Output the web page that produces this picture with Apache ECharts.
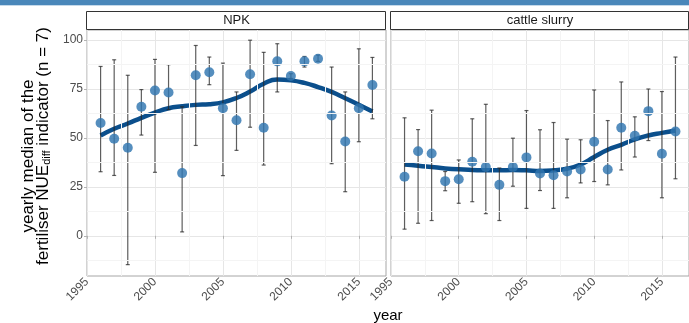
<!DOCTYPE html>
<html><head><meta charset="utf-8">
<script src="https://cdn.jsdelivr.net/npm/echarts@6/dist/echarts.min.js"></script>
<style>html,body{margin:0;padding:0;background:#fff}#c{width:689px;height:323px}</style>
</head><body><div id="c"></div>
<script>
const years = [1996,1997,1998,1999,2000,2001,2002,2003,2004,2005,2006,2007,2008,2009,2010,2011,2012,2013,2014,2015,2016];
const panelNames = ['NPK', 'cattle slurry'];

const npkMedian = [57.6,49.5,44.9,65.8,74.1,73.1,32.0,81.9,83.4,65.1,59.0,82.4,55.1,89.0,81.5,89.0,90.3,61.4,48.1,65.1,76.9];
const npkLower  = [32.7,30.8,-14.7,51.4,32.4,64.4,2.0,46.1,77.1,30.7,43.6,55.4,36.1,73.4,80.3,86.1,89.0,36.8,22.5,48.0,59.7];
const npkUpper  = [86.4,89.8,81.9,74.6,90.0,87.3,65.8,97.1,91.2,88.1,73.4,99.8,93.6,98.0,82.7,91.5,92.2,86.1,73.4,95.4,91.0];
const npkSmooth = [51.2,54.6,57.3,60.2,62.9,65.1,66.1,66.8,67.1,68.1,70.3,73.6,77.6,79.7,79.3,78.0,75.9,73.4,70.2,66.9,63.4];

const slurryMedian = [30.1,43.1,42.0,27.9,28.9,37.8,35.1,26.0,35.1,40.0,31.8,30.9,32.8,33.8,48.0,33.8,55.1,51.0,63.6,41.9,53.2];
const slurryLower  = [3.4,6.4,7.8,23.0,16.6,17.4,11.3,7.8,25.3,14.0,23.1,14.0,19.4,27.0,27.7,26.0,33.6,40.2,48.6,19.4,29.1];
const slurryUpper  = [60.2,54.2,64.1,32.8,38.7,59.7,67.1,34.6,49.8,63.9,54.1,57.8,49.3,49.0,74.4,58.8,78.5,60.7,74.9,73.6,91.2];
const slurrySmooth = [36.4,35.8,35.1,34.4,33.9,33.6,33.4,33.4,33.6,33.4,33.1,33.4,34.2,36.4,40.2,43.9,46.4,49.2,51.2,52.5,53.7];

const xTicks = [1995,2000,2005,2010,2015];
const yTicks = [0,25,50,75,100];
const xMinor = [1997.5,2002.5,2007.5,2012.5];
const yMinor = [-12.5,12.5,37.5,62.5,87.5];

const panels = [
  {median: npkMedian, lower: npkLower, upper: npkUpper, smooth: npkSmooth},
  {median: slurryMedian, lower: slurryLower, upper: slurryUpper, smooth: slurrySmooth}
];

const chart = echarts.init(document.getElementById('c'), null, {renderer: 'canvas'});
const FONT = 'Liberation Sans, Arial, sans-serif';
const gridDefs = [
  {left: 87, top: 30, width: 299, height: 246},
  {left: 391, top: 30, width: 298, height: 246}
];

const xAxes = gridDefs.map((g, i) => ({
  type: 'value', gridIndex: i, min: 1995, max: 2017,
  axisLine: {show: false},
  axisTick: {show: true, length: 3, lineStyle: {color: '#b3b3b3'}, customValues: xTicks},
  axisLabel: {rotate: 45, color: '#4d4d4d', fontSize: 12, fontFamily: FONT, margin: 4,
              customValues: xTicks, formatter: v => String(v)},
  splitLine: {show: true, lineStyle: {color: '#e6e6e6', width: 1}}
}));
const yAxes = gridDefs.map((g, i) => ({
  type: 'value', gridIndex: i, min: -20.5, max: 105,
  axisLine: {show: false},
  axisTick: {show: i === 0, length: 3, lineStyle: {color: '#b3b3b3'}, customValues: yTicks},
  axisLabel: {show: i === 0, color: '#4d4d4d', fontSize: 12, fontFamily: FONT, margin: 4,
              customValues: yTicks, formatter: v => String(v)},
  splitLine: {show: true, lineStyle: {color: '#e6e6e6', width: 1}}
}));

const series = [];
panels.forEach((p, i) => {
  series.push({
    type: 'line', xAxisIndex: i, yAxisIndex: i, data: [], z: 0, silent: true,
    markLine: {
      silent: true, symbol: 'none', label: {show: false},
      lineStyle: {color: '#f4f4f4', width: 1, type: 'solid'},
      data: xMinor.map(v => ({xAxis: v})).concat(yMinor.map(v => ({yAxis: v})))
    }
  });
  series.push({
    type: 'line', xAxisIndex: i, yAxisIndex: i, z: 2,
    data: years.map((y, k) => [y, p.smooth[k]]),
    smooth: 0.5, showSymbol: false, symbol: 'none',
    lineStyle: {color: '#0b4f8c', width: 4.5}
  });
  series.push({
    type: 'custom', xAxisIndex: i, yAxisIndex: i, z: 3,
    data: years.map((y, k) => [y, p.lower[k], p.upper[k]]),
    encode: {x: 0, y: [1, 2]},
    renderItem: function (params, api) {
      const x = api.value(0);
      const top = api.coord([x, api.value(2)]);
      const bot = api.coord([x, api.value(1)]);
      const w = 2;
      const st = {stroke: 'rgba(40,40,40,0.75)', lineWidth: 1.2};
      return {type: 'group', children: [
        {type: 'line', shape: {x1: top[0], y1: top[1], x2: bot[0], y2: bot[1]}, style: st},
        {type: 'line', shape: {x1: top[0] - w, y1: top[1], x2: top[0] + w, y2: top[1]}, style: st},
        {type: 'line', shape: {x1: bot[0] - w, y1: bot[1], x2: bot[0] + w, y2: bot[1]}, style: st}
      ]};
    }
  });
  series.push({
    type: 'scatter', xAxisIndex: i, yAxisIndex: i, z: 4,
    data: years.map((y, k) => [y, p.median[k]]),
    symbolSize: 10,
    itemStyle: {color: '#2f75b0', opacity: 0.82}
  });
});

const graphics = [
  {type: 'rect', shape: {x: 0, y: 0, width: 689, height: 5}, style: {fill: '#4a87ba'}, z: 10},
  {type: 'rect', shape: {x: 0, y: 5, width: 689, height: 1}, style: {fill: '#c5d9ea'}, z: 10},
  {type: 'text', x: 388, y: 316, style: {text: 'year', fontSize: 15, fontFamily: FONT, fill: '#000', align: 'center', verticalAlign: 'middle'}},
  {type: 'text', x: 28, y: 156, rotation: Math.PI / 2, style: {
    text: 'yearly median of the', fontSize: 17, fontFamily: FONT, fill: '#000', align: 'center', verticalAlign: 'middle'}},
  {type: 'text', x: 43, y: 146, rotation: Math.PI / 2, style: {
    text: '{t|fertiliser NUE}{s|diff}{t| indicator (n = 7)}',
    align: 'center', verticalAlign: 'middle', fill: '#000',
    rich: {
      t: {fontSize: 17, fontFamily: FONT, lineHeight: 18, fill: '#000'},
      s: {fontSize: 11, fontFamily: FONT, lineHeight: 11, verticalAlign: 'bottom', fill: '#000'}
    }
  }}
];
gridDefs.forEach((g, i) => {
  graphics.push({type: 'rect', shape: {x: g.left - 0.5, y: 11.5, width: g.width, height: 18}, style: {fill: '#fff', stroke: '#333', lineWidth: 1}});
  graphics.push({type: 'text', x: g.left + g.width / 2, y: 20.5, style: {text: panelNames[i], fontSize: 13, fontFamily: FONT, fill: '#1a1a1a', align: 'center', verticalAlign: 'middle'}});
});

chart.setOption({
  animation: false,
  backgroundColor: '#fff',
  grid: gridDefs.map(g => Object.assign({show: true, borderColor: '#a6a6a6', borderWidth: 1, backgroundColor: 'transparent', containLabel: false}, g)),
  xAxis: xAxes,
  yAxis: yAxes,
  series: series,
  graphic: graphics
});
</script></body></html>
